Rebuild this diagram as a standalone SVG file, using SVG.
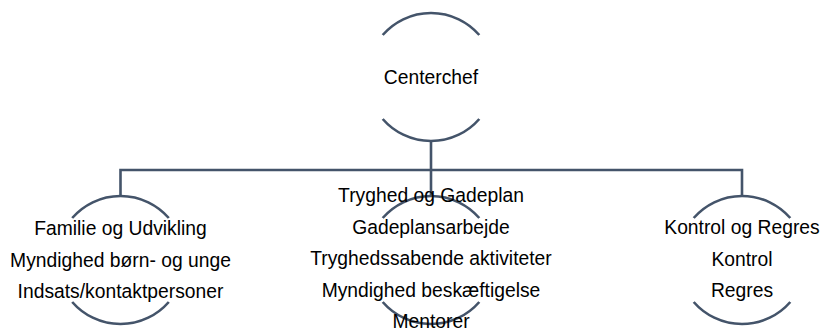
<svg xmlns="http://www.w3.org/2000/svg" width="822" height="331" viewBox="0 0 822 331">
<style>
.arc{fill:none;stroke:#44546A;stroke-width:2.6;}
.con{fill:none;stroke:#44546A;stroke-width:2.6;}
text{font-family:"Liberation Sans",Arial,sans-serif;font-size:19.3px;fill:#000;text-anchor:middle;}
</style>
<rect width="822" height="331" fill="#fff"/>
<g id="connectors">
<path class="con" d="M431,141 V197"/>
<path class="con" d="M120.5,196 V170 H742 V196"/>
</g>
<g id="node-centerchef">
<path class="arc" d="M382.7,35 A64,64 0 0 1 479.3,35"/>
<path class="arc" d="M382.7,119 A64,64 0 0 0 479.3,119"/>
<text x="431" y="83.5">Centerchef</text>
</g>
<g id="node-familie">
<path class="arc" d="M72.2,218 A64,64 0 0 1 168.8,218"/>
<path class="arc" d="M72.2,302 A64,64 0 0 0 168.8,302"/>
<text x="120.5" y="235">Familie og Udvikling</text>
<text x="120.5" y="266.5">Myndighed børn- og unge</text>
<text x="120.5" y="298">Indsats/kontaktpersoner</text>
</g>
<g id="node-tryghed">
<path class="arc" d="M382.7,218 A64,64 0 0 1 479.3,218"/>
<path class="arc" d="M382.7,302 A64,64 0 0 0 479.3,302"/>
<text x="431" y="202">Tryghed og Gadeplan</text>
<text x="431" y="233.5">Gadeplansarbejde</text>
<text x="431" y="265">Tryghedssabende aktiviteter</text>
<text x="431" y="296.5">Myndighed beskæftigelse</text>
<text x="431" y="328">Mentorer</text>
</g>
<g id="node-kontrol">
<path class="arc" d="M693.7,218 A64,64 0 0 1 790.3,218"/>
<path class="arc" d="M693.7,302 A64,64 0 0 0 790.3,302"/>
<text x="742" y="234">Kontrol og Regres</text>
<text x="742" y="265.5">Kontrol</text>
<text x="742" y="297">Regres</text>
</g>
</svg>
